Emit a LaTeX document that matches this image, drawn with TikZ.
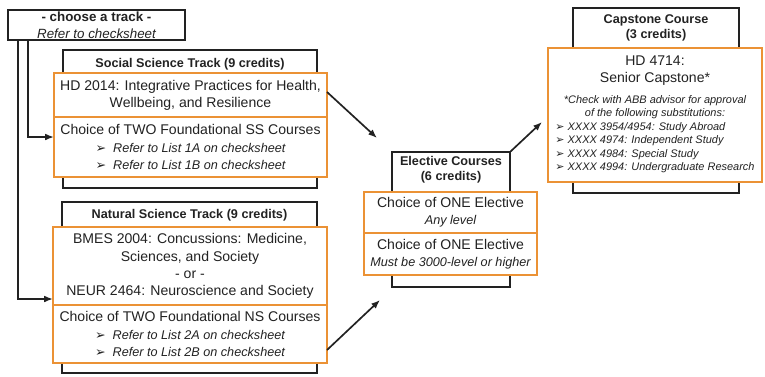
\documentclass[tikz,border=0pt]{standalone}
\usepackage{fontspec}
\setmainfont{Liberation Sans}
\newfontfamily\symfont{DejaVu Sans}
\usetikzlibrary{arrows.meta}
\definecolor{ink}{HTML}{222222}
\definecolor{orange}{HTML}{EB9235}
\newcommand{\arrowbullet}{{\symfont ➢}\hspace{0.55em}}
\tikzset{
  track/.style={draw=ink, line width=1.3pt, inner sep=0pt, outer sep=0pt},
  course/.style={draw=orange, line width=1.4pt, fill=white, align=center, inner sep=1pt, outer sep=0pt, text=ink, font=\fontsize{10}{12.2}\selectfont},
  title/.style={font=\fontsize{9}{10.5}\selectfont\bfseries, align=center, text=ink, inner sep=0pt},
  arrow/.style={-{Latex[length=2.2mm,width=1.7mm]}, line width=1.2pt, draw=ink},
  refer/.style={font=\fontsize{9}{11}\selectfont\itshape}
}
\newcommand{\refline}[1]{{\fontsize{9}{11}\selectfont\itshape\arrowbullet #1}}
\begin{document}
\begin{tikzpicture}[x=1cm,y=1cm]
\useasboundingbox (0,0) rectangle (19.125,-9.4);
% picking a track
\node[track, minimum width=4.425cm, minimum height=0.75cm, align=center, text=ink] (choose) at (2.4125,-0.625)
  {\fontsize{9.5}{11.5}\selectfont\textbf{- choose a track -}\\\fontsize{9.5}{11.5}\selectfont\itshape Refer to checksheet};
% social science track
\node[track, minimum width=6.35cm, minimum height=3.45cm] (sstrack) at (4.75,-2.975) {};
\node[title] (sstitle) at (4.75,-1.6) {Social Science Track (9 credits)};
\node[course, minimum width=6.825cm, minimum height=1.1cm] (hdcore) at (4.7625,-2.375)
  {HD 2014: Integrative Practices for Health,\\Wellbeing, and Resilience};
\node[course, minimum width=6.825cm, minimum height=1.5cm] (sslist) at (4.7625,-3.675)
  {Choice of TWO Foundational SS Courses\\\refline{Refer to List 1A on checksheet}\\\refline{Refer to List 1B on checksheet}};
% natural science track
\node[track, minimum width=6.375cm, minimum height=4.275cm] (nstrack) at (4.7375,-7.1875) {};
\node[title] (nstitle) at (4.7375,-5.375) {Natural Science Track (9 credits)};
\node[course, minimum width=6.85cm, minimum height=1.95cm] (nscore) at (4.75,-6.65)
  {BMES 2004: Concussions: Medicine,\\Sciences, and Society\\- or -\\NEUR 2464: Neuroscience and Society};
\node[course, minimum width=6.85cm, minimum height=1.45cm] (nslist) at (4.75,-8.35)
  {Choice of TWO Foundational NS Courses\\\refline{Refer to List 2A on checksheet}\\\refline{Refer to List 2B on checksheet}};
% electives
\node[track, minimum width=2.95cm, minimum height=3.375cm] (electrack) at (11.275,-5.4875) {};
\node[title] (electitle) at (11.275,-4.25) {Elective Courses\\(6 credits)};
\node[course, minimum width=4.325cm, minimum height=1.025cm] (elecany) at (11.2625,-5.3125)
  {Choice of ONE Elective\\{\fontsize{9}{11}\selectfont\itshape Any level}};
\node[course, minimum width=4.325cm, minimum height=1.05cm] (elechigh) at (11.2625,-6.35)
  {Choice of ONE Elective\\{\fontsize{9}{11}\selectfont\itshape Must be 3000-level or higher}};
% capstone
\node[track, minimum width=4.15cm, minimum height=4.625cm] (captrack) at (16.4,-2.5125) {};
\node[title] (captitle) at (16.4,-0.69) {Capstone Course\\(3 credits)};
\node[course, minimum width=5.35cm, minimum height=3.35cm] (capcourse) at (16.375,-2.875)
  {HD 4714:\\Senior Capstone*\\[5pt]{\fontsize{7.8}{9.6}\selectfont\itshape
   \begin{tabular}{@{}l@{}}
   \multicolumn{1}{@{}c@{}}{*Check with ABB advisor for approval}\\
   \multicolumn{1}{@{}c@{}}{of the following substitutions:}\\
   {\symfont ➢} XXXX 3954/4954: Study Abroad\\
   {\symfont ➢} XXXX 4974: Independent Study\\
   {\symfont ➢} XXXX 4984: Special Study\\
   {\symfont ➢} XXXX 4994: Undergraduate Research
   \end{tabular}}};
% connectors
\coordinate (elecin1) at (9.425,-3.45);
\coordinate (elecin2) at (9.5,-7.5);
\coordinate (capin) at (13.55,-3.05);
\draw[arrow] ([xshift=-1.7125cm]choose.south) |- ([yshift=0.25cm]sslist.west);
\draw[arrow] ([xshift=-1.9625cm]choose.south) |- ([yshift=-0.825cm]nscore.west);
\draw[arrow] ([yshift=0.075cm]hdcore.east) -- (elecin1);
\draw[arrow] ([yshift=-0.4cm]nslist.east) -- (elecin2);
\draw[arrow] (electrack.north east) -- (capin);
\end{tikzpicture}
\end{document}
